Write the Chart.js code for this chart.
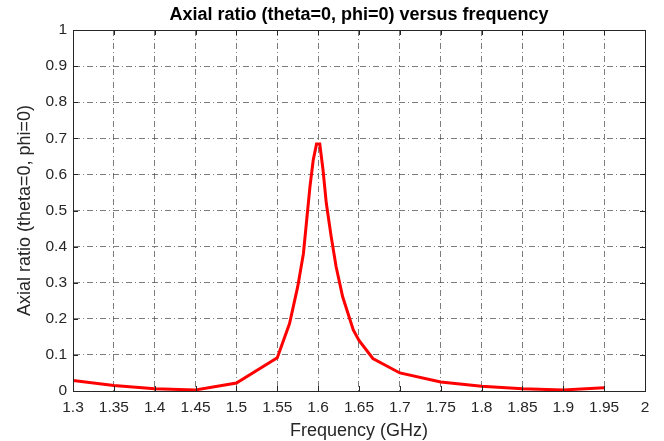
<!DOCTYPE html>
<html>
<head>
<meta charset="utf-8">
<script src="https://cdn.jsdelivr.net/npm/chart.js@4"></script>
<style>
  html, body { margin: 0; padding: 0; background: #fff; }
  #wrap { width: 664px; height: 441px; }
</style>
</head>
<body>
<div id="wrap"><canvas id="arChart"></canvas></div>
<script>
// frequency samples (GHz) and axial ratio
const freq = [1.3, 1.35, 1.4, 1.45, 1.5, 1.55, 1.565, 1.575, 1.582, 1.586, 1.59, 1.594, 1.598, 1.602,
              1.606, 1.61, 1.616, 1.622, 1.63, 1.643, 1.65, 1.667, 1.7, 1.75, 1.8, 1.85, 1.9, 1.95];
const axialRatio = [0.029, 0.015, 0.006, 0.003, 0.022, 0.092, 0.187, 0.289, 0.381, 0.474, 0.566, 0.64, 0.684, 0.684,
                    0.612, 0.52, 0.427, 0.344, 0.261, 0.169, 0.14, 0.09, 0.05, 0.025, 0.013, 0.006, 0.003, 0.009];
const xTicks = [1.3, 1.35, 1.4, 1.45, 1.5, 1.55, 1.6, 1.65, 1.7, 1.75, 1.8, 1.85, 1.9, 1.95, 2];
const yTicks = [0, 0.1, 0.2, 0.3, 0.4, 0.5, 0.6, 0.7, 0.8, 0.9, 1];

const points = freq.map((f, i) => ({ x: f, y: axialRatio[i] }));
const FONT = "'Liberation Sans', Arial, sans-serif";
const DASH = [6, 3, 1, 3];
const gridStyle = {
  color: "rgba(70,70,70,0.7)",
  lineWidth: 1,
  drawTicks: false
};

// axes box + inward tick marks, matlab style
const boxPlugin = {
  id: "box",
  afterDraw(chart) {
    const { ctx, chartArea: a, scales } = chart;
    const len = 5;
    ctx.save();
    ctx.strokeStyle = "#262626";
    ctx.lineWidth = 1;
    ctx.setLineDash([]);
    ctx.strokeRect(a.left + 0.5, a.top + 0.5, a.right - a.left, a.bottom - a.top);
    ctx.beginPath();
    xTicks.forEach(v => {
      const px = Math.round(scales.x.getPixelForValue(v)) + 0.5;
      ctx.moveTo(px, a.bottom); ctx.lineTo(px, a.bottom - len);
      ctx.moveTo(px, a.top); ctx.lineTo(px, a.top + len);
    });
    yTicks.forEach(v => {
      const py = Math.round(scales.y.getPixelForValue(v)) + 0.5;
      ctx.moveTo(a.left, py); ctx.lineTo(a.left + len, py);
      ctx.moveTo(a.right, py); ctx.lineTo(a.right - len, py);
    });
    ctx.stroke();
    ctx.restore();
  }
};

new Chart(document.getElementById("arChart"), {
  type: "scatter",
  data: {
    datasets: [{
      data: points,
      showLine: true,
      borderColor: "#ff0000",
      backgroundColor: "#ff0000",
      borderWidth: 3,
      pointRadius: 0,
      tension: 0
    }]
  },
  options: {
    responsive: true,
    maintainAspectRatio: false,
    animation: false,
    layout: { padding: { top: 0, right: 19, bottom: 0, left: 0 } },
    plugins: {
      legend: { display: false },
      tooltip: { enabled: false },
      title: {
        display: true,
        fullSize: false,
        text: "Axial ratio (theta=0, phi=0) versus frequency",
        color: "#000",
        font: { family: FONT, size: 18, weight: "bold" },
        padding: { top: 4, bottom: 4.4 }
      }
    },
    scales: {
      x: {
        type: "linear",
        min: 1.3,
        max: 2,
        afterBuildTicks: s => { s.ticks = xTicks.map(v => ({ value: v })); },
        afterFit: s => { s.height = 50; },
        ticks: {
          color: "#262626",
          font: { family: FONT, size: 15.5 },
          padding: 7,
          maxRotation: 0,
          autoSkip: false,
          callback: v => String(v)
        },
        grid: { ...gridStyle },
        border: { display: true, color: "#262626", dash: DASH },
        title: {
          display: true,
          text: "Frequency (GHz)",
          color: "#262626",
          font: { family: FONT, size: 18, lineHeight: 1 },
          padding: { top: 0, bottom: 1 }
        }
      },
      y: {
        min: 0,
        max: 1,
        afterBuildTicks: s => { s.ticks = yTicks.map(v => ({ value: v })); },
        afterFit: s => { s.width = 73; },
        ticks: {
          color: "#262626",
          font: { family: FONT, size: 15.5 },
          padding: 6,
          autoSkip: false,
          callback: v => String(v)
        },
        grid: { ...gridStyle },
        border: { display: true, color: "#262626", dash: DASH },
        title: {
          display: true,
          text: "Axial ratio (theta=0, phi=0)",
          color: "#262626",
          font: { family: FONT, size: 18 },
          padding: { top: 14, bottom: 0 }
        }
      }
    }
  },
  plugins: [boxPlugin]
});
</script>
</body>
</html>
